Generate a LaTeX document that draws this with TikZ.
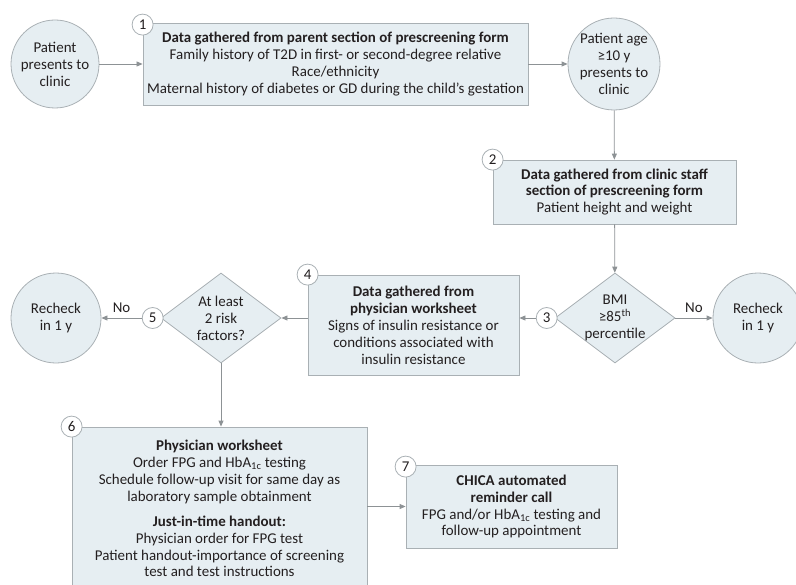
\documentclass[tikz,border=0pt]{standalone}
\usepackage{fontspec}
\setmainfont{Carlito}
\usetikzlibrary{shapes.geometric, arrows.meta}

\definecolor{boxfill}{HTML}{E6EEF2}
\definecolor{boxline}{HTML}{A9B0B4}
\definecolor{arrowgray}{HTML}{8D9295}
\definecolor{textdark}{HTML}{231F20}

\begin{document}
\begin{tikzpicture}[x = 1bp, y = -1bp, line width = 0.8bp,
                        every node/.style = {text = textdark, font = \fontsize{15}{17}\selectfont},
                        box/.style = {rectangle, draw = boxline, fill = boxfill, align = center, inner sep = 0pt},
                        round/.style = {circle, draw = boxline, fill = boxfill, align = center, inner sep = 0pt},
                        choice/.style = {diamond, draw = boxline, fill = boxfill, align = center, inner sep = -4bp,
                                         aspect = 1.333, minimum width = 120bp, minimum height = 90bp},
                        num/.style = {circle, draw = boxline, fill = white, inner sep = 0pt, minimum size = 21bp},
                        arr/.style = {draw = arrowgray, -{Triangle[length = 6bp, width = 5bp]}}]
      \clip (0, 0) rectangle (796, 585);

      \node [round, minimum size = 88bp] (start) at (55, 64){Patient\\presents to\\clinic};
      \node [box, minimum width = 385bp, minimum height = 82bp] (b1) at (335.5, 64)
            {\textbf{Data gathered from parent section of prescreening form}\\
             Family history of T2D in first- or second-degree relative\\
             Race/ethnicity\\
             Maternal history of diabetes or GD during the child’s gestation};
      \node [round, minimum size = 92bp] (age) at (614, 64){Patient age\\≥10 y\\presents to\\clinic};
      \node [box, minimum width = 243bp, minimum height = 64bp] (b2) at (614.5, 192)
            {\textbf{Data gathered from clinic staff}\\
             \textbf{section of prescreening form}\\
             Patient height and weight};
      \node [choice] (bmi) at (615, 318){BMI\\≥85\textsuperscript{th}\\percentile};
      \node [round, minimum size = 90bp] (recr) at (758, 318){Recheck\\in 1 y};
      \node [box, minimum width = 211bp, minimum height = 100bp] (b4) at (413.5, 325)
            {\textbf{Data gathered from}\\
             \textbf{physician worksheet}\\
             Signs of insulin resistance or\\
             conditions associated with\\
             insulin resistance};
      \node [choice] (risk) at (221, 318){At least\\2 risk\\factors?};
      \node [round, minimum size = 90bp] (recl) at (56, 318){Recheck\\in 1 y};
      \node [box, minimum width = 295bp, minimum height = 163bp] (b6) at (219.5, 508.5)
            {\textbf{Physician worksheet}\\
             Order FPG and HbA\textsubscript{1c} testing\\
             Schedule follow-up visit for same day as\\
             laboratory sample obtainment\\[8bp]
             \textbf{Just-in-time handout:}\\
             Physician order for FPG test\\
             Patient handout-importance of screening\\
             test and test instructions};
      \node [box, minimum width = 211bp, minimum height = 83bp] (b7) at (511.5, 506.5)
            {\textbf{CHICA automated}\\
             \textbf{reminder call}\\
             FPG and/or HbA\textsubscript{1c} testing and\\
             follow-up appointment};

      % step numbers
      \node [num] (n1) at ([yshift = -2bp]b1.north west){1};
      \node [num] (n2) at (b2.north west){2};
      \node [num, anchor = east] (n3) at ([xshift = 3bp]bmi.west){3};
      \node [num] (n4) at (b4.north west){4};
      \node [num, anchor = east] (n5) at ([xshift = 3bp]risk.west){5};
      \node [num] (n6) at (b6.north west){6};
      \node [num] (n7) at ([yshift = -2bp]b7.north west){7};

      \draw [arr] (start) -- (b1);
      \draw [arr] (b1) -- (age);
      \draw [arr] (age) -- (b2);
      \draw [arr] (b2) -- (bmi);
      \draw [arr] (bmi.east) -- node [above = 2bp] (no1){No} (recr.west);
      \draw [arr] (n3.west) -- (n3.west -| b4.east);
      \draw [arr] (b4.west |- risk.east) -- (risk.east);
      \draw [arr] (n5.west) -- node [above = 2bp] (no2){No} (recl.east);
      \draw [arr] (risk.south) -- (risk.south |- b6.north);
      \draw [arr] (b6.east |- b7.west) -- (b7.west);
    \end{tikzpicture}
\end{document}
